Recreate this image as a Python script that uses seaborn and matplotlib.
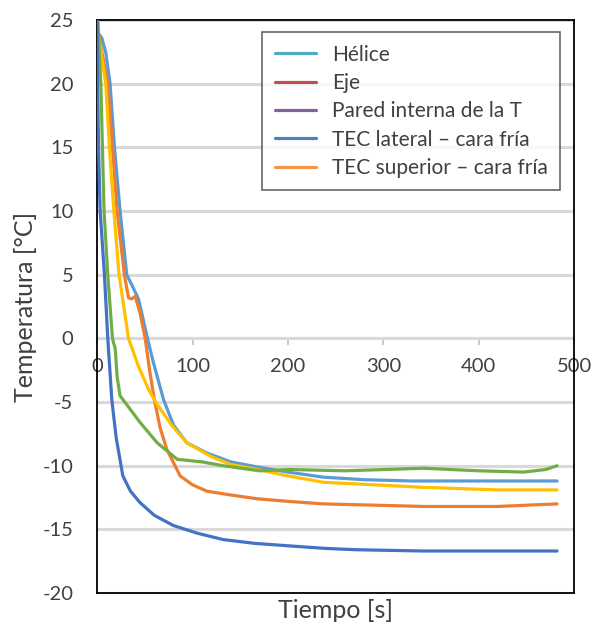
import numpy as np
import pandas as pd
import matplotlib
matplotlib.use("Agg")
import matplotlib.pyplot as plt
import seaborn as sns
from matplotlib.lines import Line2D

# values (time in s, temperature in °C)
t_helice = [1, 4.9, 9, 13.6, 18.2, 24.1, 31.1, 36.4, 43.4, 52.8, 59, 69.6, 80, 94, 115, 140, 168, 200, 237, 280, 330, 377, 430, 482]
y_helice = [24.0, 23.6, 22.5, 20.0, 15.0, 10.0, 5.0, 4.2, 3.1, 0.0, -1.9, -4.8, -6.8, -8.2, -9.0, -9.7, -10.1, -10.5, -10.9, -11.1, -11.2, -11.2, -11.2, -11.2]

t_orange = [0, 5, 11.2, 16.1, 21, 28.6, 32.9, 36, 39.9, 45, 50.4, 55, 60, 66, 73, 87, 100, 115, 140, 168, 200, 237, 290, 342, 420, 482]
y_orange = [24.5, 22.5, 20.0, 15.0, 10.0, 5.0, 3.2, 3.1, 3.3, 2.0, 0.0, -2.5, -4.8, -7.0, -8.7, -10.8, -11.5, -12.0, -12.3, -12.6, -12.8, -13.0, -13.1, -13.2, -13.2, -13.0]

t_yellow = [0, 4, 9.1, 12.9, 17.6, 23, 27, 32.9, 43.4, 53.8, 63, 78, 94, 120, 140, 168, 200, 237, 290, 342, 420, 482]
y_yellow = [24.5, 22.5, 20.0, 15.0, 10.0, 5.0, 3.0, 0.0, -2.2, -4.0, -5.2, -6.8, -8.2, -9.3, -9.9, -10.3, -10.8, -11.3, -11.5, -11.7, -11.9, -11.9]

t_green = [0, 1, 3.9, 5.6, 7.3, 11.2, 16.1, 17.1, 19, 21, 24, 35, 45, 63, 84, 110, 132, 170, 202, 260, 342, 400, 447, 470, 482]
y_green = [25.0, 24.8, 20.0, 15.0, 10.0, 5.0, 0.0, -0.3, -0.8, -3.0, -4.5, -5.6, -6.6, -8.2, -9.5, -9.7, -10.0, -10.4, -10.3, -10.4, -10.2, -10.4, -10.5, -10.3, -10.0]

t_blue = [0, 0.5, 1.5, 3.2, 7.7, 11.2, 15.4, 20, 27, 35, 45, 60, 80, 105, 132, 165, 202, 240, 272, 342, 420, 482]
y_blue = [25.0, 20.0, 15.0, 10.0, 5.0, 0.0, -4.8, -7.8, -10.8, -12.0, -12.9, -13.9, -14.7, -15.3, -15.8, -16.1, -16.3, -16.5, -16.6, -16.7, -16.7, -16.7]

line_series = [
    (t_helice, y_helice, "#5B9BD5"),
    (t_orange, y_orange, "#ED7D31"),
    (t_yellow, y_yellow, "#FFC000"),
    (t_green, y_green, "#70AD47"),
    (t_blue, y_blue, "#4472C4"),
]

legend_labels = ["Hélice", "Eje", "Pared interna de la T",
                 "TEC lateral – cara fría", "TEC superior – cara fría"]
legend_colors = ["#4BACC6", "#C0504D", "#8064A2", "#4F81BD", "#F79646"]

sns.set_style("white")
plt.rcParams["font.family"] = ["Lato", "DejaVu Sans"]
plt.rcParams["axes.unicode_minus"] = False

fig = plt.figure(figsize=(5.92, 6.28), dpi=100)
ax = fig.add_axes([0.164, 0.0557, 0.806, 0.9123])

for t, y, c in line_series:
    df = pd.DataFrame({"t": t, "y": y})
    sns.lineplot(data=df, x="t", y="y", color=c, linewidth=2.3, ax=ax,
                 sort=False, estimator=None, zorder=3)

ax.set_xlim(0, 500)
ax.set_ylim(-20, 25)
ax.set_yticks(np.arange(-20, 26, 5))
ax.yaxis.grid(True, color="#d9d9d9", linewidth=2.2, zorder=0)
ax.xaxis.grid(False)
ax.tick_params(axis="y", length=0, labelsize=14.5, colors="#404040", pad=17)
ax.set_xticks([])
for s in ax.spines.values():
    s.set_color("black")
    s.set_linewidth(1.3)

# x axis crossing at y = 0
sec = ax.secondary_xaxis(20 / 45)
sec.set_xticks([0, 100, 200, 300, 400, 500])
sec.tick_params(axis="x", length=5, width=1.2, color="#bfbfbf", labelsize=14.5,
                labelcolor="#404040", pad=9)
sec.spines["bottom"].set_color("#bfbfbf")
sec.spines["bottom"].set_linewidth(1.5)

ax.set_xlabel("Tiempo [s]", fontsize=18, color="#404040", labelpad=4)
ax.set_ylabel("Temperatura [°C]", fontsize=18, color="#404040", labelpad=4)

handles = [Line2D([0], [0], color=c, linewidth=2.3) for c in legend_colors]
leg = ax.legend(handles, legend_labels, loc="upper right",
                bbox_to_anchor=(0.971, 0.979), borderaxespad=0, fontsize=15,
                frameon=True, fancybox=False, edgecolor="#404040",
                handlelength=2.0, labelspacing=0.4, borderpad=0.6,
                handletextpad=0.75)
leg.get_frame().set_linewidth(1.2)
for txt in leg.get_texts():
    txt.set_color("#404040")

fig.savefig("out.png", dpi=100)
